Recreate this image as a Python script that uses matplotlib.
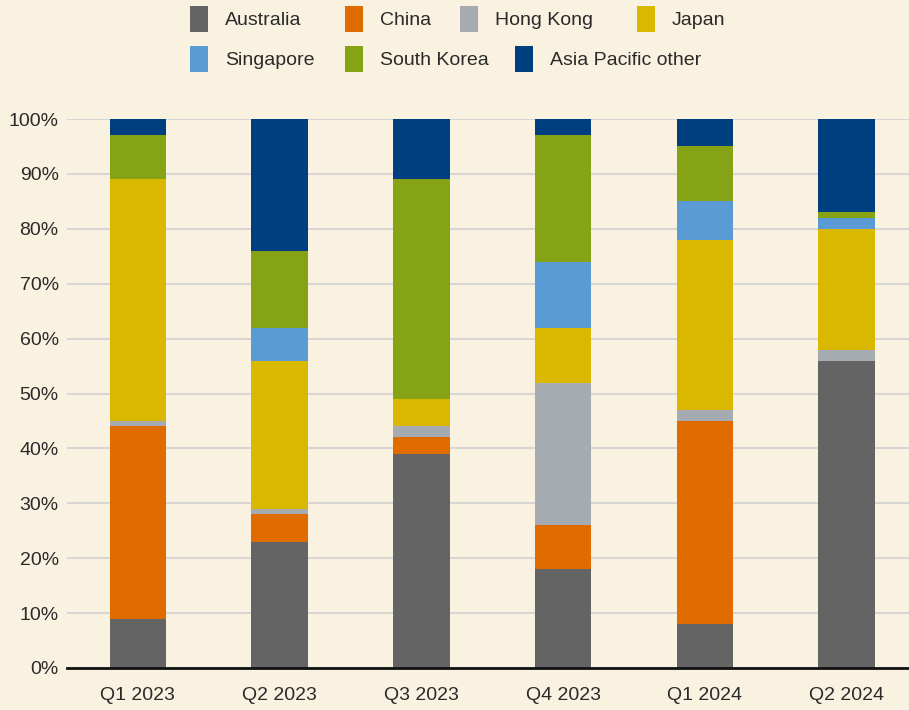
import matplotlib.pyplot as plt
from matplotlib.patches import Patch
import numpy as np

quarters = ["Q1 2023", "Q2 2023", "Q3 2023", "Q4 2023", "Q1 2024", "Q2 2024"]

# share of investment by origin (%)
australia = [9, 23, 39, 18, 8, 56]
china = [35, 5, 3, 8, 37, 0]
hong_kong = [1, 1, 2, 26, 2, 2]
japan = [44, 27, 5, 10, 31, 22]
singapore = [0, 6, 0, 12, 7, 2]
south_korea = [8, 14, 40, 23, 10, 1]
ap_other = [3, 24, 11, 3, 5, 17]

series = [
    ("Australia", australia, "#646464"),
    ("China", china, "#e06c00"),
    ("Hong Kong", hong_kong, "#a5abb1"),
    ("Japan", japan, "#dbb800"),
    ("Singapore", singapore, "#5b9bd5"),
    ("South Korea", south_korea, "#86a315"),
    ("Asia Pacific other", ap_other, "#003f7f"),
]

# legend entry spots (pixel x of swatch, pixel y of row centre)
legend_spots = [(190, 19), (345, 19), (460, 19), (637, 19),
                (190, 59), (345, 59), (515, 59)]

BG = "#faf2e1"
plt.rcParams["font.family"] = ["Liberation Sans", "DejaVu Sans"]

W, H = 909, 710
fig = plt.figure(figsize=(W / 100, H / 100), dpi=100, facecolor=BG)
ax = fig.add_axes([67 / W, 42 / H, 842 / W, 549 / H], facecolor=BG)

x = np.arange(len(quarters))
bottom = np.zeros(len(quarters))
for name, vals, col in series:
    ax.bar(x, vals, width=0.4, bottom=bottom, color=col, zorder=3)
    bottom += np.array(vals)

ax.set_ylim(0, 100)
ax.set_xlim(-0.5, 5.44)
ax.set_yticks(range(0, 101, 10))
ax.set_yticklabels([f"{v}%" for v in range(0, 101, 10)])
ax.set_xticks(x)
ax.set_xticklabels(quarters)
ax.tick_params(length=0, labelsize=14, colors="#2a2a2a")
ax.tick_params(axis="x", pad=14)
ax.tick_params(axis="y", pad=6)
ax.yaxis.grid(True, color="#d8d6d2", linewidth=1.5, zorder=0)
for s in ["top", "right", "left"]:
    ax.spines[s].set_visible(False)
ax.spines["bottom"].set_linewidth(2)
ax.spines["bottom"].set_color("#111111")
ax.spines["bottom"].set_zorder(4)

for (name, _, col), (px, py) in zip(series, legend_spots):
    fig.legend(handles=[Patch(facecolor=col, label=name)], frameon=False,
               fontsize=14, handlelength=0.9, handleheight=1.65,
               handletextpad=0.9, borderpad=0, borderaxespad=0,
               loc="center left", bbox_to_anchor=(px / W, 1 - py / H),
               labelcolor="#2a2a2a")

fig.savefig("out.png", dpi=100, facecolor=BG)
